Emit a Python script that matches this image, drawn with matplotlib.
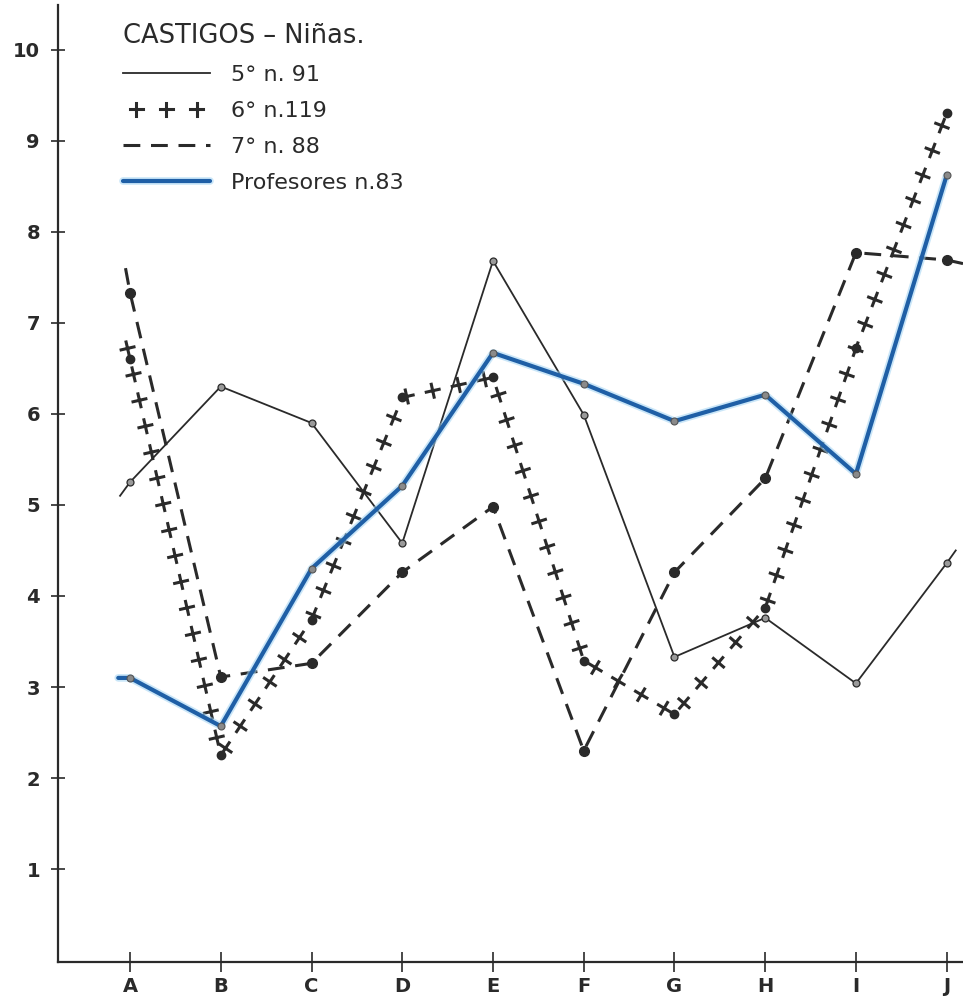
import numpy as np
import matplotlib
matplotlib.use('Agg')
import matplotlib.pyplot as plt
import matplotlib.patheffects as pe

# datos (castigos - ninas)
cats = ['A', 'B', 'C', 'D', 'E', 'F', 'G', 'H', 'I', 'J']
quinto = [5.25, 6.30, 5.90, 4.58, 7.68, 5.99, 3.33, 3.76, 3.04, 4.36]
sexto = [6.60, 2.25, 3.74, 6.18, 6.40, 3.29, 2.70, 3.87, 6.72, 9.30]
septimo = [7.33, 3.11, 3.26, 4.26, 4.98, 2.30, 4.26, 5.29, 7.77, 7.69]
profes = [3.10, 2.57, 4.30, 5.21, 6.67, 6.33, 5.92, 6.21, 5.34, 8.62]

# trazos sueltos antes de A y despues de J (x, valor)
quinto_ini, quinto_fin = (-0.11, 5.10), (9.10, 4.50)
sexto_ini = (-0.06, 6.86)
septimo_ini, septimo_fin = (-0.05, 7.60), (9.18, 7.65)
profes_ini = (-0.13, 3.10)

labels = ['5\u00b0 n. 91', '6\u00b0 n.119', '7\u00b0 n. 88', 'Profesores n.83']
titulo = 'CASTIGOS \u2013 Ni\u00f1as.'

ink = '#2a2a2a'
azul = '#1f5fa6'

x = np.arange(len(cats))

def serie(ini, vals, fin=None):
    xs = [ini[0]] + list(x)
    ys = [ini[1]] + list(vals)
    if fin is not None:
        xs.append(fin[0])
        ys.append(fin[1])
    return xs, ys

fig = plt.figure(figsize=(9.63, 10.01), dpi=100)
ax = fig.add_axes([58/963, 39/1001, 905/963, 957/1001])

# 5o: linea fina
xs, ys = serie(quinto_ini, quinto, quinto_fin)
l5, = ax.plot(xs, ys, color=ink, lw=1.3, label=labels[0], zorder=3)
ax.plot(x, quinto, 'o', ms=5, mfc='#9a9a9a', mec=ink, mew=0.9, zorder=4)

# 6o: cruces a lo largo del recorrido
cruz = [pe.TickedStroke(spacing=19, angle=a, length=0.25) for a in (0, 90, 180, 270)]
xs, ys = serie(sexto_ini, sexto)
l6, = ax.plot(xs, ys, color=ink, lw=2.2, label=labels[1], zorder=3,
              path_effects=cruz)
ax.plot(x, sexto, 'o', ms=6, color=ink, zorder=4)

# 7o: discontinua
xs, ys = serie(septimo_ini, septimo, septimo_fin)
l7, = ax.plot(xs, ys, color=ink, lw=2.2, dashes=(5.5, 3.5), label=labels[2], zorder=3)
ax.plot(x, septimo, 'o', ms=7, color=ink, zorder=4)

# profesores: azul grueso
xs, ys = serie(profes_ini, profes)
lp, = ax.plot(xs, ys, color=azul, lw=3.0, label=labels[3], zorder=5,
              solid_capstyle='round',
              path_effects=[pe.Stroke(linewidth=5.5, foreground='#9fd3f3', alpha=0.55),
                            pe.Normal()])
ax.plot(x, profes, 'o', ms=5, mfc='#8a8a8a', mec='#555555', mew=0.8, zorder=6)

ax.set_xlim(-0.794, 9.18)
ax.set_ylim(-0.02, 10.49)

ax.set_xticks(x)
ax.set_xticklabels(cats)
ax.set_yticks(range(1, 11))
ax.tick_params(axis='both', direction='inout', colors=ink, width=1.2,
               labelsize=14)
ax.tick_params(axis='y', length=10, pad=8)
ax.tick_params(axis='x', length=14, pad=4)
for t in ax.get_xticklabels() + ax.get_yticklabels():
    t.set_fontweight('bold')

for s in ['top', 'right']:
    ax.spines[s].set_visible(False)
for s in ['left', 'bottom']:
    ax.spines[s].set_color(ink)
    ax.spines[s].set_linewidth(1.6)

leg = ax.legend(handles=[l5, l6, l7, lp], title=titulo, loc='upper left',
                bbox_to_anchor=(0.072, 0.981), frameon=False, fontsize=16,
                title_fontsize=18.5, handlelength=3.9, handletextpad=0.95,
                labelspacing=0.72, borderpad=0, borderaxespad=0,
                alignment='left')
for t in leg.get_texts():
    t.set_color(ink)
leg.get_title().set_color(ink)

fig.savefig('out.png', dpi=100)
